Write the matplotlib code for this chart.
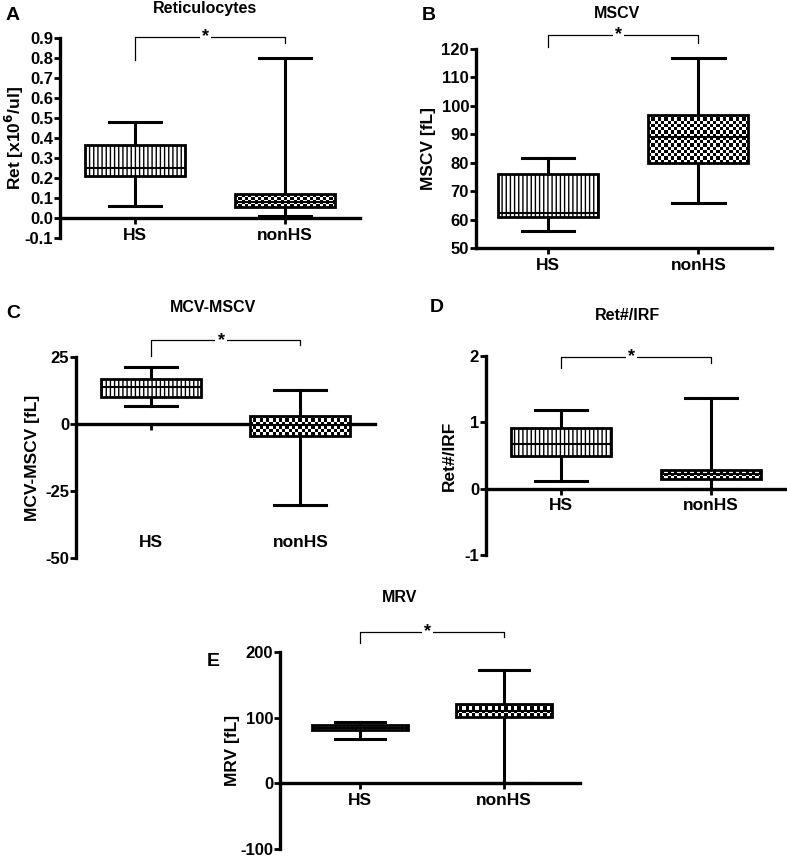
import numpy as np
import matplotlib.pyplot as plt

plt.rcParams['font.family'] = ['Liberation Sans', 'DejaVu Sans']
plt.rcParams['font.weight'] = 'bold'
plt.rcParams['axes.unicode_minus'] = False
plt.rcParams['hatch.linewidth'] = 1.0

W, H = 787, 858
groups = ['HS', 'nonHS']

# box stats per panel: [whislo, q1, med, q3, whishi]
ret_hs = [0.06, 0.21, 0.25, 0.365, 0.48]
ret_non = [0.01, 0.055, 0.08, 0.12, 0.80]
mscv_hs = [56, 61, 62.2, 76, 81.7]
mscv_non = [66, 80, 88.9, 96.9, 116.7]
diff_hs = [6.6, 10.2, 13.8, 16.8, 21.2]
diff_non = [-30.2, -4.4, -0.5, 3.1, 12.7]
irf_hs = [0.11, 0.49, 0.68, 0.91, 1.18]
irf_non = [0.0, 0.145, 0.215, 0.275, 1.37]
mrv_hs = [66.8, 81.9, 84.4, 89.4, 93.0]
mrv_non = [0.0, 100.5, 109.5, 120.6, 172.4]

titles = ['Reticulocytes', 'MSCV', 'MCV-MSCV', 'Ret#/IRF', 'MRV']
letters = ['A', 'B', 'C', 'D', 'E']
ylabels = ['Ret [x10$^{\\mathbf{6}}$/ul]', 'MSCV [fL]', 'MCV-MSCV [fL]', 'Ret#/IRF', 'MRV [fL]']
yticks = [np.round(np.arange(-0.1, 0.91, 0.1), 1), np.arange(50, 121, 10),
          [-50, -25, 0, 25], [-1, 0, 1, 2], [-100, 0, 100, 200]]
yfmt = ['{:.1f}', '{:g}', '{:g}', '{:g}', '{:g}']
# bracket: height, left drop, right drop
brackets = [(0.905, 0.79, 0.875), (124.9, 120.8, 122.0), (31.2, 25.3, 29.3),
            (1.99, 1.82, 1.90), (231, 213, 223)]
data = [(ret_hs, ret_non), (mscv_hs, mscv_non), (diff_hs, diff_non),
        (irf_hs, irf_non), (mrv_hs, mrv_non)]

# pixel layout: left, right, top, bottom of axes
rects = [(60, 360, 38, 238), (476, 772, 49, 248), (76, 375, 357, 558),
         (486, 786, 356, 555), (280, 580, 652, 849)]
title_xy = [(205, 9), (617, 13), (213, 308), (627, 315), (400, 598)]
letter_xy = [(13, 15), (429, 15), (13, 313), (437, 308), (213, 662)]
ylabel_x = [14, 428, 33, 449, 232]
xlims = [(-0.5, 1.5), (-0.48, 1.49), (-0.5, 1.5), (-0.5, 1.5), (-0.556, 1.528)]
xpads = [3, 3, 76, 3, 3]

fig = plt.figure(figsize=(W / 100, H / 100), dpi=100)

for k in range(5):
    l, r, t, b = rects[k]
    ax = fig.add_axes([l / W, 1 - b / H, (r - l) / W, (b - t) / H])
    yt = yticks[k]
    ax.set_ylim(yt[0], yt[-1])
    ax.set_xlim(*xlims[k])

    stats = []
    for g, s in zip(groups, data[k]):
        stats.append(dict(label=g, whislo=s[0], q1=s[1], med=s[2], q3=s[3], whishi=s[4]))
    bp = ax.bxp(stats, positions=[0, 1], widths=0.667, capwidths=0.35,
                showfliers=False, patch_artist=True,
                boxprops=dict(linewidth=2, edgecolor='black'),
                whiskerprops=dict(linewidth=2.2, color='black'),
                capprops=dict(linewidth=2.2, color='black'),
                medianprops=dict(linewidth=1.5, color='black'))
    hs_box, non_box = bp['boxes']
    hs_box.set_facecolor('white')
    hs_box.set_hatch('||||')
    hs_box.set_zorder(3)
    non_box.set_facecolor('none')
    non_box.set_zorder(4)
    for m in bp['medians']:
        m.set_zorder(5)

    # checkerboard fill of nonHS box
    s = data[k][1]
    x0, x1 = 1 - 0.667 / 2, 1 + 0.667 / 2
    p0 = ax.transData.transform((x0, s[1]))
    p1 = ax.transData.transform((x1, s[3]))
    nc = max(2, int(round((p1[0] - p0[0]) / 3.2)))
    nr = max(2, int(round((p1[1] - p0[1]) / 3.2)))
    board = np.indices((nr, nc)).sum(axis=0) % 2
    im = ax.imshow(board, cmap='gray', extent=(x0, x1, s[1], s[3]), aspect='auto',
                   interpolation='nearest', zorder=3)
    im.set_clip_path(non_box)

    # significance bracket
    yb, yl, yr = brackets[k]
    ax.plot([0, 0, 1, 1], [yl, yb, yb, yr], color='black', lw=0.9, clip_on=False)
    ax.text(0.47, yb, '*', ha='center', va='center', fontsize=13,
            bbox=dict(facecolor='white', edgecolor='none', pad=1.5), clip_on=False)

    ax.spines['top'].set_visible(False)
    ax.spines['right'].set_visible(False)
    ax.spines['left'].set_linewidth(2.4)
    ax.spines['bottom'].set_linewidth(2.4)
    ax.spines['bottom'].set_position(('data', 0 if yt[0] < 0 else yt[0]))

    ax.set_yticks(yt)
    ax.set_yticklabels([yfmt[k].format(v) for v in yt], fontsize=12, fontweight='bold')
    ax.set_xticks([0, 1])
    ax.set_xticklabels(groups, fontsize=12.5, fontweight='bold')
    ax.tick_params(axis='y', direction='out', length=4, width=2, pad=1)
    ax.tick_params(axis='x', direction='out', length=4, width=2, pad=xpads[k])
    ax.set_ylabel(ylabels[k], fontsize=12.5, fontweight='bold', va='center')
    ax.yaxis.set_label_coords((ylabel_x[k] - l) / (r - l), 0.5)

    tx, ty = title_xy[k]
    fig.text(tx / W, 1 - ty / H, titles[k], ha='center', va='center',
             fontsize=11.5, fontweight='bold')
    lx, ly = letter_xy[k]
    fig.text(lx / W, 1 - ly / H, letters[k], ha='center', va='center',
             fontsize=14, fontweight='bold')

fig.savefig('out.png', dpi=100)
